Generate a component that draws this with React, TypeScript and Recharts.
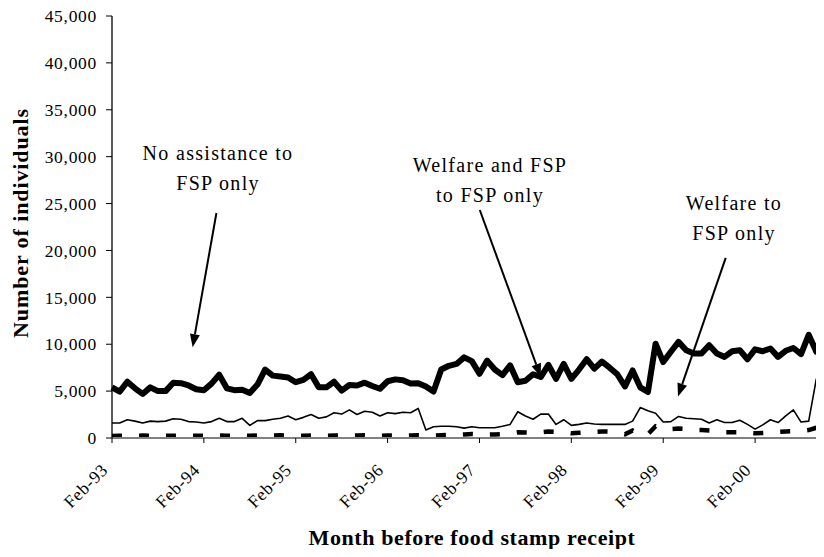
import { LineChart, Line, XAxis, YAxis, ReferenceLine } from "recharts";

// months before food stamp receipt, Feb-93 .. Nov-00
const MONTHS = [
  "Feb-93", "Mar-93", "Apr-93", "May-93", "Jun-93", "Jul-93", "Aug-93", "Sep-93", "Oct-93", "Nov-93", "Dec-93",
  "Jan-94", "Feb-94", "Mar-94", "Apr-94", "May-94", "Jun-94", "Jul-94", "Aug-94", "Sep-94", "Oct-94", "Nov-94", "Dec-94",
  "Jan-95", "Feb-95", "Mar-95", "Apr-95", "May-95", "Jun-95", "Jul-95", "Aug-95", "Sep-95", "Oct-95", "Nov-95", "Dec-95",
  "Jan-96", "Feb-96", "Mar-96", "Apr-96", "May-96", "Jun-96", "Jul-96", "Aug-96", "Sep-96", "Oct-96", "Nov-96", "Dec-96",
  "Jan-97", "Feb-97", "Mar-97", "Apr-97", "May-97", "Jun-97", "Jul-97", "Aug-97", "Sep-97", "Oct-97", "Nov-97", "Dec-97",
  "Jan-98", "Feb-98", "Mar-98", "Apr-98", "May-98", "Jun-98", "Jul-98", "Aug-98", "Sep-98", "Oct-98", "Nov-98", "Dec-98",
  "Jan-99", "Feb-99", "Mar-99", "Apr-99", "May-99", "Jun-99", "Jul-99", "Aug-99", "Sep-99", "Oct-99", "Nov-99", "Dec-99",
  "Jan-00", "Feb-00", "Mar-00", "Apr-00", "May-00", "Jun-00", "Jul-00", "Aug-00", "Sep-00", "Oct-00", "Nov-00",
];

// No assistance to FSP only (thick line)
const NO_ASSIST = [
  5400, 4950, 6000, 5300, 4700, 5400, 5000, 5000, 5900, 5850,
  5600, 5200, 5100, 5800, 6750, 5300, 5100, 5150, 4800, 5700,
  7300, 6650, 6550, 6450, 5950, 6200, 6800, 5400, 5400, 6000,
  5050, 5650, 5600, 5900, 5550, 5250, 6050, 6250, 6150, 5800,
  5850, 5500, 4950, 7300, 7700, 7900, 8600, 8200, 6850, 8250,
  7300, 6700, 7750, 5950, 6100, 6800, 6500, 7800, 6300, 7900,
  6300, 7300, 8400, 7400, 8150, 7500, 6800, 5500, 7200, 5400,
  4900, 10050, 8100, 9200, 10250, 9350, 9000, 9000, 9900, 9000,
  8650, 9250, 9350, 8400, 9450, 9250, 9550, 8650, 9300, 9600,
  8950, 11000, 9200, 12000,
];

// Welfare and FSP to FSP only (thin line)
const WELFARE_FSP = [
  1600, 1600, 1950, 1800, 1600, 1800, 1750, 1800, 2050, 2000,
  1750, 1700, 1600, 1750, 2100, 1750, 1750, 2100, 1350, 1850,
  1850, 2000, 2100, 2350, 1950, 2200, 2500, 2100, 2250, 2700,
  2550, 3000, 2500, 2850, 2750, 2350, 2700, 2600, 2750, 2700,
  3150, 850, 1200, 1250, 1250, 1200, 1050, 1200, 1100, 1100,
  1100, 1250, 1450, 2800, 2350, 2000, 2550, 2550, 1450, 1950,
  1350, 1450, 1600, 1500, 1450, 1450, 1450, 1450, 1800, 3250,
  2900, 2650, 1700, 1750, 2300, 2100, 2050, 2000, 1600, 1950,
  1650, 1650, 1900, 1450, 950, 1400, 1950, 1650, 2350, 3000,
  1700, 1800, 6300, 5000,
];

// Welfare to FSP only (dashed line)
const WELFARE_ONLY = [
  220, 250, 230, 240, 260, 230, 250, 240, 230, 260,
  250, 240, 230, 250, 260, 240, 230, 250, 240, 260,
  250, 270, 280, 260, 240, 250, 280, 250, 240, 260,
  250, 240, 260, 280, 250, 240, 270, 260, 250, 280,
  300, 280, 260, 300, 320, 350, 380, 420, 380, 350,
  380, 420, 480, 600, 580, 560, 620, 700, 650, 600,
  500, 550, 600, 650, 700, 680, 600, 400, 800, 350,
  400, 1250, 1000, 950, 1000, 950, 850, 850, 800, 750,
  600, 600, 600, 550, 500, 520, 560, 650, 700, 720,
  760, 850, 1100, 1500,
];

const Y_TICKS = [0, 5000, 10000, 15000, 20000, 25000, 30000, 35000, 40000, 45000];
const X_TICKS = [0, 12, 24, 36, 48, 60, 72, 84];

const data = MONTHS.map((m, i) => ({
  idx: i,
  month: m,
  noAssist: NO_ASSIST[i],
  welfareFsp: WELFARE_FSP[i],
  welfareOnly: WELFARE_ONLY[i],
}));

// annotation arrows, in data coordinates (month index, individuals)
const ARROWS = [
  { from: { x: 13.64, y: 23990 }, to: { x: 10.53, y: 9690 } },
  { from: { x: 48.04, y: 24310 }, to: { x: 56.0, y: 6530 } },
  { from: { x: 80.16, y: 19200 }, to: { x: 73.93, y: 4430 } },
];

const NOTES = [
  { x: 218, y: 160, lines: ["No assistance to", "FSP only"] },
  { x: 490, y: 172, lines: ["Welfare and FSP", "to FSP only"] },
  { x: 734, y: 210, lines: ["Welfare to", "FSP only"] },
];

const FONT = '"Liberation Serif", "Times New Roman", serif';

const XTick = ({ x, y, payload }: any) => {
  const tx = x - 3;
  const ty = y + 28;
  return (
    <text
      x={tx}
      y={ty}
      transform={`rotate(-45 ${tx} ${ty})`}
      textAnchor="end"
      fontSize={17.5}
      fontFamily={FONT}
      letterSpacing={0.7}
      fill="#000"
    >
      {MONTHS[payload.value]}
    </text>
  );
};

const YTick = ({ x, y, payload }: any) => (
  <text x={x} y={y} dy="0.355em" textAnchor="end" fontSize={17.5} fontFamily={FONT} letterSpacing={0.7} fill="#000">
    {Number(payload.value).toLocaleString("en-US")}
  </text>
);

const Arrow = (props: any) => {
  const { x1, y1, x2, y2 } = props;
  const ang = Math.atan2(y2 - y1, x2 - x1);
  const len = 13;
  const half = 5;
  const bx = x2 - len * Math.cos(ang);
  const by = y2 - len * Math.sin(ang);
  const px = -Math.sin(ang) * half;
  const py = Math.cos(ang) * half;
  return (
    <g>
      <line x1={x1} y1={y1} x2={bx} y2={by} stroke="#000" strokeWidth={2} />
      <polygon points={`${x2},${y2} ${bx + px},${by + py} ${bx - px},${by - py}`} fill="#000" />
    </g>
  );
};

export default function App() {
  return (
    <div style={{ position: "relative", width: 824, height: 557, margin: -8, overflow: "hidden", background: "#fff" }}>
      <LineChart width={824} height={557} data={data} margin={{ top: 16, right: 0, bottom: 0, left: 0 }}>
        <XAxis
          type="number"
          dataKey="idx"
          domain={[0, 93]}
          ticks={X_TICKS}
          interval={0}
          height={119}
          tickSize={5}
          tickMargin={0}
          axisLine={{ stroke: "#808080", strokeWidth: 2 }}
          tickLine={{ stroke: "#000" }}
          tick={<XTick />}
        />
        <YAxis
          domain={[0, 45000]}
          ticks={Y_TICKS}
          interval={0}
          width={112}
          tickSize={6}
          tickMargin={9}
          axisLine={{ stroke: "#000", strokeWidth: 1.3 }}
          tickLine={{ stroke: "#000" }}
          tick={<YTick />}
        />
        <Line
          type="linear"
          dataKey="welfareOnly"
          stroke="#000"
          strokeWidth={4.5}
          strokeDasharray="10 17"
          dot={false}
          isAnimationActive={false}
        />
        <Line
          type="linear"
          dataKey="welfareFsp"
          stroke="#000"
          strokeWidth={1.6}
          strokeLinejoin="round"
          dot={false}
          isAnimationActive={false}
        />
        <Line
          type="linear"
          dataKey="noAssist"
          stroke="#000"
          strokeWidth={6}
          strokeLinejoin="round"
          dot={false}
          isAnimationActive={false}
        />
        {ARROWS.map((a, i) => (
          <ReferenceLine key={i} segment={[a.from, a.to]} shape={<Arrow />} />
        ))}
      </LineChart>
      <svg width={824} height={557} style={{ position: "absolute", left: 0, top: 0, pointerEvents: "none" }}>
        {NOTES.map((n, i) => (
          <text key={i} textAnchor="middle" fontFamily={FONT} fontSize={20} letterSpacing={1.3} fill="#000">
            {n.lines.map((l, j) => (
              <tspan key={j} x={n.x} y={n.y + j * 29.5}>
                {l}
              </tspan>
            ))}
          </text>
        ))}
        <text
          x={472}
          y={545}
          textAnchor="middle"
          fontFamily={FONT}
          fontSize={22}
          fontWeight="bold"
          letterSpacing={0.6}
          fill="#000"
        >
          Month before food stamp receipt
        </text>
        <text
          x={28}
          y={223}
          transform="rotate(-90 28 223)"
          textAnchor="middle"
          fontFamily={FONT}
          fontSize={22}
          fontWeight="bold"
          letterSpacing={0.9}
          fill="#000"
        >
          Number of individuals
        </text>
      </svg>
    </div>
  );
}
